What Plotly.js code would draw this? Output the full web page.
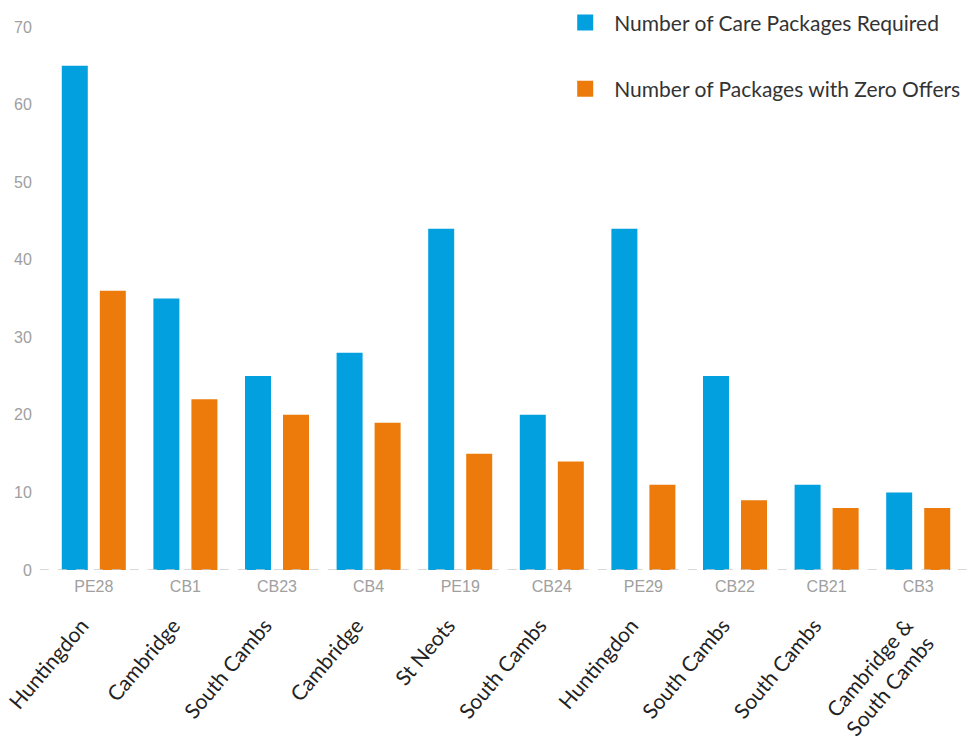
<!DOCTYPE html>
<html>
<head>
<meta charset="utf-8">
<script src="https://cdn.plot.ly/plotly-3.0.1.min.js"></script>
<style>html,body{margin:0;padding:0;background:#fff;}#chart{width:969px;height:746px;}</style>
</head>
<body>
<div id="chart"></div>
<script>
const codes = ["PE28","CB1","CB23","CB4","PE19","CB24","PE29","CB22","CB21","CB3"];
const towns = ["Huntingdon","Cambridge","South Cambs","Cambridge","St Neots","South Cambs","Huntingdon","South Cambs","South Cambs","Cambridge &<br>South Cambs"];
const required = [65,35,25,28,44,20,44,25,11,10];
const zeroOffers = [36,22,20,19,15,14,11,9,8,8];
const yTicks = [0,10,20,30,40,50,60,70];
const seriesNames = ['Number of Care Packages Required','Number of Packages with Zero Offers'];
const seriesColors = ['#03A0E0','#EC7B0B'];

const data = [
  {type:'bar', x:codes, y:required, name:seriesNames[0],
   marker:{color:seriesColors[0]}, showlegend:false, hoverinfo:'x+y'},
  {type:'bar', x:codes, y:zeroOffers, name:seriesNames[1],
   marker:{color:seriesColors[1]}, showlegend:false, hoverinfo:'x+y'},
  {type:'scatter', x:codes, y:codes.map(()=>0), xaxis:'x2', mode:'markers',
   marker:{opacity:0}, showlegend:false, hoverinfo:'skip'},
  {type:'scatter', x:[null], y:[null], mode:'markers', name:seriesNames[0], legendgroup:'a',
   marker:{symbol:'square', size:16, color:seriesColors[0]}},
  {type:'scatter', x:[null], y:[null], mode:'markers', name:seriesNames[1], legendgroup:'b',
   marker:{symbol:'square', size:16, color:seriesColors[1]}}
];

const layout = {
  width:969, height:746,
  margin:{l:48, r:5, t:27, b:10, autoexpand:false},
  paper_bgcolor:'#fff', plot_bgcolor:'#fff',
  barmode:'group', bargap:0.17, bargroupgap:0.316,
  font:{family:'Lato, sans-serif', color:'#333'},
  xaxis:{type:'category', range:[-0.5,9.5], showgrid:false, zeroline:false, showline:false,
    ticks:'outside', ticklen:2, tickcolor:'rgba(0,0,0,0)',
    tickfont:{family:'Arial, Liberation Sans, sans-serif', size:16, color:'#a0a0a0'}},
  xaxis2:{type:'category', overlaying:'x', anchor:'free', position:0.18, side:'bottom',
    range:[-0.5,9.5], showgrid:false, zeroline:false, showline:false,
    tickmode:'array', tickvals:codes, ticktext:towns, tickangle:-50, ticklabelshift:-12,
    ticks:'', tickfont:{family:'Lato, sans-serif', size:21, color:'#222'}},
  yaxis:{domain:[0.2341,1], range:[0,70], tickvals:yTicks, showgrid:false, zeroline:false, showline:false,
    ticks:'outside', ticklen:12, tickcolor:'rgba(0,0,0,0)',
    tickfont:{family:'Arial, Liberation Sans, sans-serif', size:16, color:'#a0a0a0'}},
  shapes:[{type:'line', xref:'paper', yref:'y', x0:-0.009, x1:1.006, y0:0, y1:0,
    line:{color:'#cccccc', width:1.5, dash:'dash'}, layer:'above'}],
  legend:{xref:'container', yref:'container', x:0.574, y:0.997, xanchor:'left', yanchor:'top',
    traceorder:'grouped', tracegroupgap:36, itemwidth:48, itemsizing:'trace',
    font:{family:'Lato, sans-serif', size:21, color:'#333'}, bgcolor:'rgba(0,0,0,0)'},
  showlegend:true
};

Plotly.newPlot('chart', data, layout, {displayModeBar:false, staticPlot:true});
</script>
</body>
</html>
